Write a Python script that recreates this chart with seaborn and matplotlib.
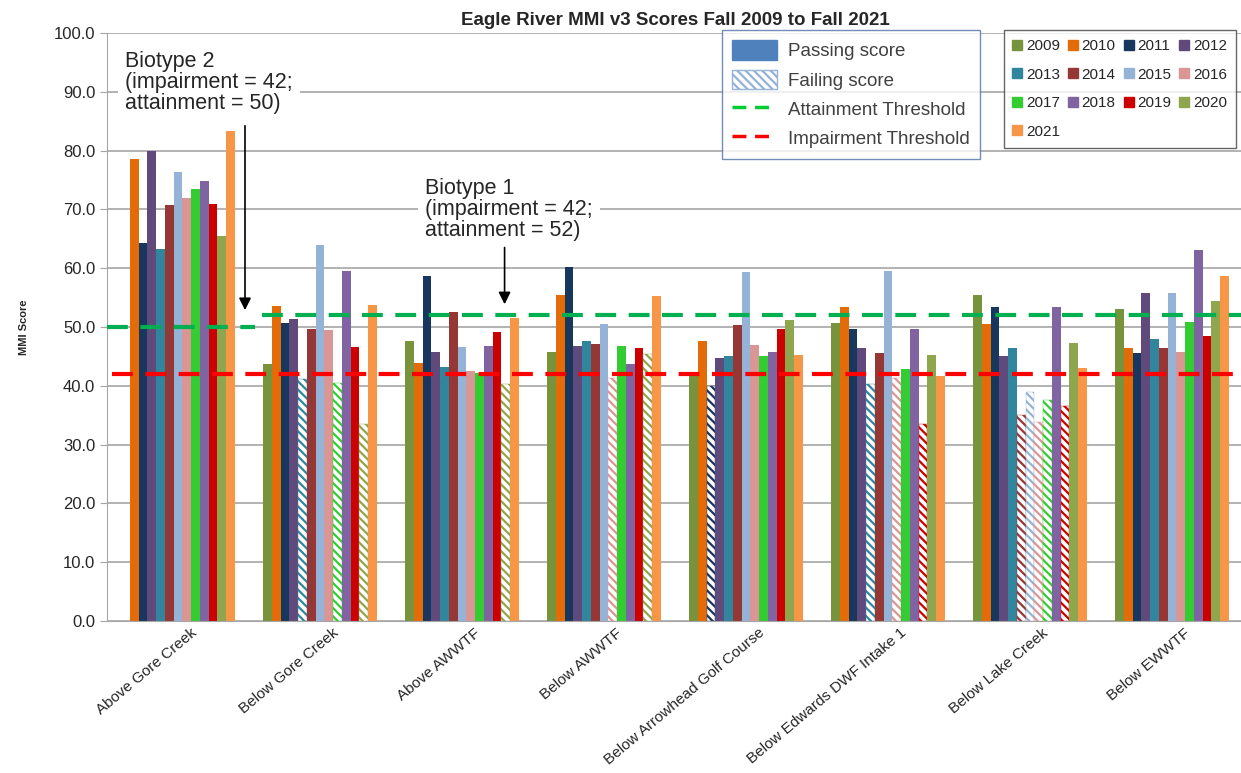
import matplotlib
matplotlib.use("Agg")
import matplotlib.pyplot as plt
from matplotlib.patches import Patch
from matplotlib.lines import Line2D
from matplotlib.transforms import ScaledTranslation
import seaborn as sns
import pandas as pd
import numpy as np

sites = ["Above Gore Creek", "Below Gore Creek", "Above AWWTF", "Below AWWTF",
         "Below Arrowhead Golf Course", "Below Edwards DWF Intake 1",
         "Below Lake Creek", "Below EWWTF"]
years = [str(y) for y in range(2009, 2022)]
year_colors = ["#77933C", "#E36C09", "#17375E", "#604A7B", "#31859C", "#953735",
               "#95B3D7", "#D99694", "#33CC33", "#8064A2", "#CC0000", "#8EA64E",
               "#F79646"]

# MMI scores per site, one value per year 2009..2021 (nan = not sampled)
above_gore = [np.nan, 78.6, 64.3, 80.0, 63.2, 70.8, 76.3, 72.0, 73.4, 74.9, 71.0, 65.4, 83.3]
below_gore = [43.7, 53.5, 50.6, 51.4, 41.1, 49.7, 64.0, 49.5, 40.4, 59.6, 46.6, 33.5, 53.7]
above_awwtf = [47.6, 43.9, 58.7, 45.7, 43.2, 52.5, 46.6, 42.6, 42.1, 46.8, 49.2, 40.3, 51.5]
below_awwtf = [45.8, 55.5, 60.2, 46.7, 47.6, 47.1, 50.5, 41.3, 46.7, 43.7, 46.5, 45.4, 55.3]
below_arrowhead = [42.3, 47.6, 39.9, 44.7, 45.0, 50.3, 59.3, 46.9, 45.0, 45.7, 49.6, 51.2, 45.2]
below_edwards = [50.7, 53.4, 49.6, 46.5, 40.3, 45.6, 59.5, 41.4, 42.9, 49.6, 33.5, 45.2, 41.7]
below_lake = [55.4, 50.5, 53.4, 45.0, 46.5, 35.0, 38.9, 33.9, 37.6, 53.4, 36.6, 47.2, 43.1]
below_ewwtf = [53.1, 46.4, 45.5, 55.8, 48.0, 46.4, 55.8, 45.8, 50.9, 63.1, 48.4, 54.4, 58.6]
scores = [above_gore, below_gore, above_awwtf, below_awwtf, below_arrowhead,
          below_edwards, below_lake, below_ewwtf]

# failing scores (hatched bars): site -> years
failing = {
    "Below Gore Creek": ["2013", "2017", "2020"],
    "Above AWWTF": ["2020"],
    "Below AWWTF": ["2016", "2020"],
    "Below Arrowhead Golf Course": ["2011"],
    "Below Edwards DWF Intake 1": ["2013", "2016", "2019"],
    "Below Lake Creek": ["2014", "2015", "2016", "2017", "2019"],
}

impairment = 42
attainment_biotype2 = 50
attainment_biotype1 = 52

rows = []
for site, vals in zip(sites, scores):
    for yr, v in zip(years, vals):
        if not np.isnan(v):
            rows.append({"site": site, "year": yr, "score": v})
df = pd.DataFrame(rows)

sns.set_style("white")
plt.rcParams["font.family"] = ["Liberation Sans", "DejaVu Sans"]
plt.rcParams["hatch.linewidth"] = 1.6

fig = plt.figure(figsize=(12.41, 7.73), dpi=100)
ax = fig.add_axes([0.0862, 0.1966, 0.9154, 0.7607])

sns.barplot(data=df, x="site", y="score", hue="year", order=sites, hue_order=years,
            palette=year_colors, saturation=1, width=0.8, errorbar=None,
            legend=False, linewidth=0, ax=ax, zorder=2)

# hatch the failing scores
for i, cont in enumerate(ax.containers):
    for bar in cont:
        idx = int(round(bar.get_x() + bar.get_width() / 2))
        if years[i] in failing.get(sites[idx], []):
            bar.set_facecolor("white")
            bar.set_edgecolor(year_colors[i])
            bar.set_hatch("\\\\\\\\")
            bar.set_linewidth(0.3)

ax.set_xlim(-0.5, 7.5)
ax.set_ylim(0, 100)
ax.set_yticks(np.arange(0, 101, 10))
ax.set_yticklabels([f"{v:.1f}" for v in np.arange(0, 101, 10)], fontsize=12)
ax.yaxis.grid(True, color="#A6A6A6", linewidth=1.2, zorder=0)
ax.set_axisbelow(True)
for s in ["top", "right"]:
    ax.spines[s].set_visible(False)
ax.spines["left"].set_color("#A6A6A6")
ax.spines["bottom"].set_color("#A6A6A6")
ax.tick_params(axis="y", length=5, color="#A6A6A6", direction="out", left=True)
ax.tick_params(axis="x", length=0)

ax.set_xticks(range(len(sites)))
ax.set_xticklabels(sites, rotation=40, ha="right", rotation_mode="anchor", fontsize=11)
for lab in ax.get_xticklabels():
    lab.set_transform(lab.get_transform() + ScaledTranslation(0.12, 0.0, fig.dpi_scale_trans))

ax.set_xlabel("")
ax.set_ylabel("MMI Score", fontsize=8, fontweight="bold", labelpad=18)
ax.set_title("Eagle River MMI v3 Scores Fall 2009 to Fall 2021", fontsize=13.5,
             fontweight="bold", pad=6)

# threshold lines
ax.plot([-0.5, 0.54], [attainment_biotype2] * 2, color="#00B050", lw=3,
        dashes=(5, 3), zorder=4)
ax.plot([0.59, 7.5], [attainment_biotype1] * 2, color="#00B050", lw=3,
        dashes=(5, 3), zorder=4)
ax.plot([-0.465, 7.5], [impairment] * 2, color="#FF0000", lw=3,
        dashes=(5, 3), zorder=4)

# biotype annotations
box = dict(facecolor="white", edgecolor="none", pad=5)
ax.text(-0.373, 96.9, "Biotype 2\n(impairment = 42;\nattainment = 50)", fontsize=15.5,
        va="top", ha="left", color="#262626", bbox=box, zorder=5, linespacing=1.0)
ax.annotate("", xy=(0.472, 52.4), xytext=(0.472, 84.7),
            arrowprops=dict(arrowstyle="-|>", color="black", lw=1.2,
                            mutation_scale=18), zorder=5)
ax.text(1.74, 75.3, "Biotype 1\n(impairment = 42;\nattainment = 52)", fontsize=15.5,
        va="top", ha="left", color="#262626", bbox=box, zorder=5, linespacing=1.0)
ax.annotate("", xy=(2.30, 53.4), xytext=(2.30, 64.0),
            arrowprops=dict(arrowstyle="-|>", color="black", lw=1.2,
                            mutation_scale=18), zorder=5)

# legend: pass/fail and thresholds
handles1 = [
    Patch(facecolor="#4F81BD", edgecolor="#4F81BD"),
    Patch(facecolor="white", edgecolor="#95B3D7", hatch="\\\\\\\\"),
    Line2D([], [], color="#00CC33", lw=2.5, dashes=(4, 2.5)),
    Line2D([], [], color="#FF0000", lw=2.5, dashes=(4, 2.5)),
]
labels1 = ["Passing score", "Failing score", "Attainment Threshold", "Impairment Threshold"]
leg1 = ax.legend(handles1, labels1, loc="upper left", bbox_to_anchor=(0.541, 1.005),
                 fontsize=13.5, frameon=True, fancybox=False, handlelength=2.4,
                 handleheight=1.2, borderpad=0.55, labelspacing=0.5,
                 handletextpad=0.6, borderaxespad=0)
leg1.get_frame().set_edgecolor("#4F6FA8")
leg1.get_frame().set_linewidth(1.0)
for t in leg1.get_texts():
    t.set_color("#404040")
ax.add_artist(leg1)

# legend: years, laid out row by row (2009-2012 on the first row)
ncol = 4
order = [j for c in range(ncol) for j in range(c, len(years), ncol)]
handles2 = [Line2D([], [], marker="s", ls="none", color=year_colors[j], markersize=7)
            for j in order]
labels2 = [years[j] for j in order]
leg2 = ax.legend(handles2, labels2, loc="upper left", bbox_to_anchor=(0.790, 1.005),
                 ncol=ncol, fontsize=11, frameon=True, fancybox=False, handlelength=0.5,
                 handletextpad=0.3, columnspacing=0.62, labelspacing=0.95,
                 borderpad=0.6, borderaxespad=0)
leg2.get_frame().set_edgecolor("#404040")
leg2.get_frame().set_linewidth(1.0)

fig.savefig("out.png", dpi=100)
